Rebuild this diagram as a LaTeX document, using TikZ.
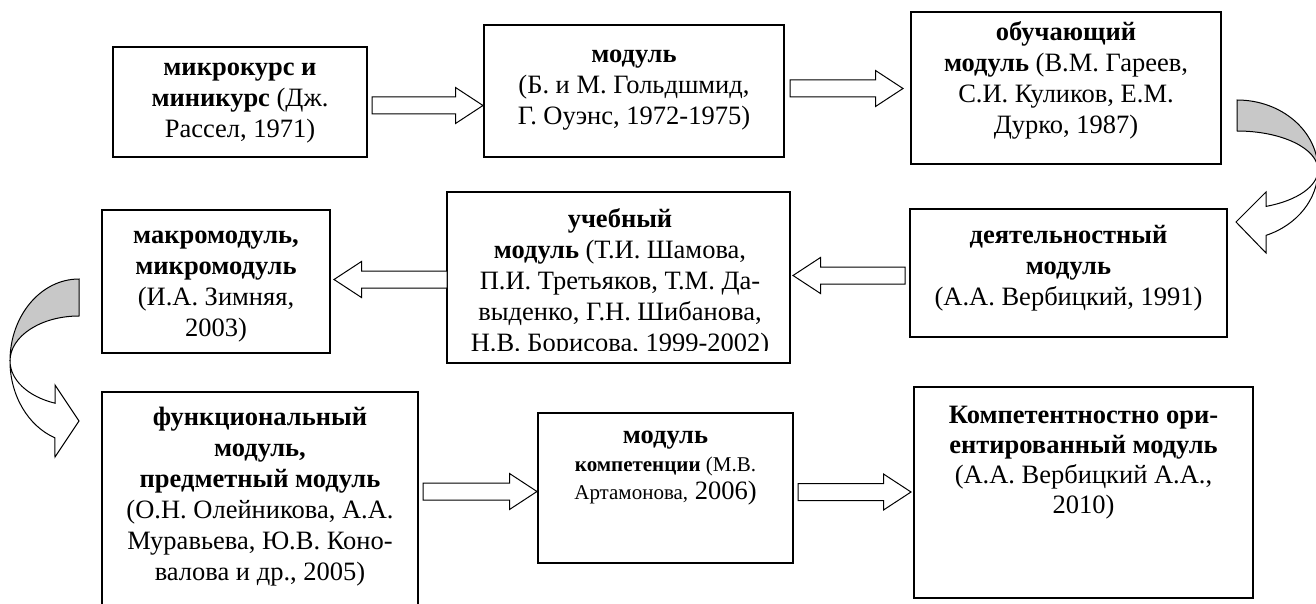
\documentclass[tikz,border=0pt]{standalone}
\usepackage{fontspec}
\setmainfont{Liberation Serif}
\usetikzlibrary{calc}
\definecolor{agray}{RGB}{200,200,200}
\tikzset{
  box/.style={draw, line width=1.3pt, inner sep=0pt, outer sep=0pt},
  txt/.style={anchor=north, align=center, inner sep=0pt, font=\fontsize{26.5}{31}\selectfont},
  barrow/.style={draw, line width=1pt, fill=white, line join=miter},
  carrow/.style={draw, line width=1pt, line join=miter},
}
\newcommand\smalltxt{\fontsize{21}{25}\selectfont}
\newcommand\harrow[2]{%
  \draw[barrow] let \p1=#1, \p2=#2, \n1={ifthenelse(\x2>\x1,1,-1)} in
    (\x1,\y2+8.5pt) -- ({\x2-\n1*27.5pt},\y2+8.5pt) -- ({\x2-\n1*27.5pt},\y2+18pt)
    -- (\x2,\y2) -- ({\x2-\n1*27.5pt},\y2-18pt) -- ({\x2-\n1*27.5pt},\y2-8.5pt)
    -- (\x1,\y2-8.5pt) -- cycle;}
\begin{document}
\begin{tikzpicture}[x=1pt,y=-1pt]
\path[use as bounding box] (0,0) rectangle (1316,604);
\clip (0,0) rectangle (1316,604);

% boxes
\node[box, minimum width=254, minimum height=110] (b1) at (240,102) {};
\node[box, minimum width=300, minimum height=132] (b2) at (634,91) {};
\node[box, minimum width=310, minimum height=152] (b3) at (1066,88) {};
\node[box, minimum width=317, minimum height=128] (b4) at (1068.5,273) {};
\node[box, minimum width=343, minimum height=171] (b5) at (618.5,277.5) {};
\node[box, minimum width=228, minimum height=143] (b6) at (216,281.5) {};
\node[box, minimum width=316, minimum height=233] (b7) at (260,508.5) {};
\node[box, minimum width=255, minimum height=150] (b8) at (665.5,488) {};
\node[box, minimum width=339, minimum height=211] (b9) at (1083.5,492.5) {};

% texts
\node[txt] (t1) at (240,54) {\strut\textbf{микрокурс и}\\\textbf{миникурс} (Дж.\\Рассел, 1971)};
\node[txt] (t2) at (634,40.3) {\strut\textbf{модуль}\\(Б. и М. Гольдшмид,\\Г. Оуэнс, 1972-1975)};
\node[txt] (t3) at (1066,19) {\strut\textbf{обучающий}\\\textbf{модуль} (В.М. Гареев,\\С.И. Куликов, Е.М.\\Дурко, 1987)};
\node[txt] (t4) at (1068.5,221.3) {\strut\textbf{деятельностный}\\\textbf{модуль}\\(А.А. Вербицкий, 1991)};
\begin{scope}
  \clip (447,192) rectangle (790,350);
  \node[txt] (t5) at (620,206) {\strut\textbf{учебный}\\\textbf{модуль} (Т.И. Шамова,\\П.И. Третьяков, Т.М. Да-\\выденко, Г.Н. Шибанова,\\Н.В. Борисова, 1999-2002)};
\end{scope}
\node[txt] (t6) at (216,221.3) {\strut\textbf{макромодуль,}\\\textbf{микромодуль}\\(И.А. Зимняя,\\2003)};
\node[txt] (t7) at (260,403.3) {\strut\textbf{функциональный}\\\textbf{модуль,}\\\textbf{предметный модуль}\\(О.Н. Олейникова, А.А.\\Муравьева, Ю.В. Коно-\\валова и др., 2005)};
\node[txt] (t8) at (665.5,421.5) {\strut\textbf{модуль}\\[-3pt]{\smalltxt\textbf{компетенции} (М.В.}\\[-3pt]{\smalltxt Артамонова,} 2006)};
\node[txt] (t9) at (1083.5,401.3) {\strut\textbf{Компетентностно ори-}\\[-1pt]\textbf{ентированный модуль}\\[-1pt](А.А. Вербицкий А.А.,\\[-1pt]2010)};

% straight block arrows
\coordinate (y12) at (0,105.5);
\coordinate (y23) at (0,88.5);
\coordinate (y45) at (0,275.5);
\coordinate (y56) at (0,279.5);
\coordinate (y78) at (0,491.5);
\coordinate (y89) at (0,492);
\harrow{($(b1.east)+(5,0)$)}{($(b2.west |- y12)+(-1,0)$)}
\harrow{($(b2.east)+(6,0)$)}{($(b3.west |- y23)+(-8,0)$)}
\harrow{($(b4.west)+(-5,0)$)}{($(b5.east |- y45)+(3,0)$)}
\harrow{(b5.west)}{($(b6.east |- y56)+(4,0)$)}
\harrow{($(b7.east)+(5,0)$)}{($(b8.west |- y78)+(-1,0)$)}
\harrow{($(b8.east)+(5,0)$)}{($(b9.west |- y89)+(-3,0)$)}

% right curved arrow (b3 -> b4)
\draw[carrow, fill=agray] (1237,100)
  arc[start angle=-90, end angle=0, x radius=81, y radius=70]
  arc[start angle=0, end angle=-90, x radius=81, y radius=39] -- cycle;
\draw[carrow, fill=white] (1318,170)
  arc[start angle=0, end angle=69, x radius=81, y radius=70]
  -- (1266,253) -- (1236,222) -- (1266,192) -- (1266,206.4)
  arc[start angle=69, end angle=0, x radius=81, y radius=39] -- cycle;

% left curved arrow (b6 -> b7)
\draw[carrow, fill=agray] (79,279)
  arc[start angle=-90, end angle=-180, x radius=69, y radius=82]
  arc[start angle=180, end angle=270, x radius=69, y radius=45] -- cycle;
\draw[carrow, fill=white] (10,361)
  arc[start angle=180, end angle=110.4, x radius=69, y radius=82]
  -- (55,457) -- (79,421) -- (55,385) -- (55,403.2)
  arc[start angle=110.4, end angle=180, x radius=69, y radius=45] -- cycle;
\end{tikzpicture}
\end{document}
